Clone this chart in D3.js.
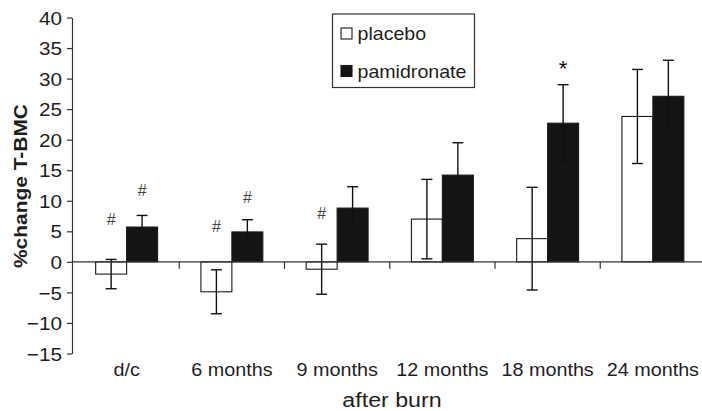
<!DOCTYPE html>
<html>
<head>
<meta charset="utf-8">
<script src="https://cdn.jsdelivr.net/npm/d3@7"></script>
<style>
  html, body { margin: 0; padding: 0; background: #fff; }
  svg { display: block; font-family: "Liberation Sans", Arial, Helvetica, sans-serif; }
</style>
</head>
<body>
<svg id="chart" width="702" height="411"></svg>
<script>
// ---- data ----
const categories = ["d/c", "6 months", "9 months", "12 months", "18 months", "24 months"];
const seriesNames = ["placebo", "pamidronate"];
const placeboMean = [-2.0, -4.9, -1.2, 7.0, 3.8, 23.8];
const placeboErr  = [2.4, 3.6, 4.1, 6.5, 8.4, 7.7];
const pamidronateMean = [5.7, 4.9, 8.8, 14.2, 22.7, 27.1];
const pamidronateErr  = [1.9, 2.0, 3.5, 5.3, 6.3, 5.9];
const yTickValues = [-15, -10, -5, 0, 5, 10, 15, 20, 25, 30, 35, 40];
const annotCategory = ["d/c", "d/c", "6 months", "6 months", "9 months", "18 months"];
const annotSeries   = ["placebo", "pamidronate", "placebo", "pamidronate", "placebo", "pamidronate"];
const annotText     = ["#", "#", "#", "#", "#", "*"];
const annotValue    = [6.9, 11.7, 5.9, 10.5, 7.9, 32.7];
const yTitle = "%change T-BMC";
const xTitle = "after burn";

// ---- setup ----
const svg = d3.select("#chart");
const axisColor = "#333";
const textColor = "#1e1e1e";
const barFill = { placebo: "#ffffff", pamidronate: "#141414" };

// widen glyphs horizontally (reference font renders wider than Arial)
function stretch(sel, sx) {
  sel.each(function () {
    const t = d3.select(this);
    const x0 = +t.attr("x") || 0, y0 = +t.attr("y") || 0;
    t.attr("x", 0).attr("y", 0)
     .attr("transform", `translate(${x0},${y0}) scale(${sx},1)`);
  });
}

const x = d3.scaleBand().domain(categories).range([74, 705.5]).paddingInner(0).paddingOuter(0);
const xs = d3.scaleBand().domain(seriesNames).range([0, x.bandwidth()]).paddingInner(0).paddingOuter(0.7);
const y = d3.scaleLinear().domain([-15, 40]).range([353.5, 17.5]);

const rows = [];
categories.forEach((c, i) => {
  rows.push({ cat: c, series: "placebo", mean: placeboMean[i], err: placeboErr[i] });
  rows.push({ cat: c, series: "pamidronate", mean: pamidronateMean[i], err: pamidronateErr[i] });
});
const cx = d => x(d.cat) + xs(d.series) + xs.bandwidth() / 2;

// ---- bars ----
const g = svg.append("g");
g.selectAll("rect.bar").data(rows).join("rect")
  .attr("class", "bar")
  .attr("x", d => x(d.cat) + xs(d.series))
  .attr("width", xs.bandwidth())
  .attr("y", d => y(Math.max(0, d.mean)))
  .attr("height", d => Math.abs(y(d.mean) - y(0)))
  .attr("fill", d => barFill[d.series])
  .attr("stroke", "#1a1a1a")
  .attr("stroke-width", 1.1);

// ---- error bars ----
const capHalf = 5.5;
const eg = g.selectAll("g.err").data(rows).join("g").attr("class", "err")
  .attr("stroke", "#111").attr("stroke-width", 1.4);
eg.append("line")
  .attr("x1", cx).attr("x2", cx)
  .attr("y1", d => y(d.mean - d.err))
  .attr("y2", d => y(d.mean + d.err));
eg.append("line")
  .attr("x1", d => cx(d) - capHalf).attr("x2", d => cx(d) + capHalf)
  .attr("y1", d => y(d.mean + d.err)).attr("y2", d => y(d.mean + d.err));
eg.append("line")
  .attr("x1", d => cx(d) - capHalf).attr("x2", d => cx(d) + capHalf)
  .attr("y1", d => y(d.mean - d.err)).attr("y2", d => y(d.mean - d.err));

// ---- y axis ----
const yAxis = d3.axisLeft(y).tickValues(yTickValues).tickSize(5).tickPadding(5).tickSizeOuter(0);
const yg = svg.append("g").attr("transform", "translate(72,0)").call(yAxis);
yg.select(".domain").attr("stroke", axisColor).attr("stroke-width", 1.2);
yg.selectAll(".tick line").attr("stroke", axisColor).attr("stroke-width", 1.2);
yg.selectAll(".tick text").attr("fill", textColor).style("font-size", "18.5px")
  .attr("dy", "0.36em").attr("x", -10);
stretch(yg.selectAll(".tick text"), 1.12);

// ---- x axis (at zero) ----
const boundaries = categories.slice(1).map(c => x(c));
const xg = svg.append("g");
xg.append("line")
  .attr("x1", 72).attr("x2", 702)
  .attr("y1", y(0)).attr("y2", y(0))
  .attr("stroke", axisColor).attr("stroke-width", 1.2);
xg.selectAll("line.tk").data(boundaries).join("line").attr("class", "tk")
  .attr("x1", d => d).attr("x2", d => d)
  .attr("y1", y(0)).attr("y2", y(0) + 7)
  .attr("stroke", axisColor).attr("stroke-width", 1.2);
const xl = xg.selectAll("text.xl").data(categories).join("text").attr("class", "xl")
  .attr("x", d => x(d) + x.bandwidth() / 2)
  .attr("y", 375.5)
  .attr("text-anchor", "middle")
  .attr("fill", textColor)
  .style("font-size", "17.5px")
  .text(d => d);
stretch(xl, 1.13);

// ---- annotations ----
annotText.forEach((t, i) => {
  const px = x(annotCategory[i]) + xs(annotSeries[i]) + xs.bandwidth() / 2;
  const isStar = t === "*";
  svg.append("text")
    .attr("x", px)
    .attr("y", y(annotValue[i]))
    .attr("dy", isStar ? "0.62em" : "0.36em")
    .attr("text-anchor", "middle")
    .attr("fill", isStar ? "#111" : "#444")
    .style("font-size", isStar ? "22px" : "16px")
    .text(t);
});

// ---- axis titles ----
svg.append("text")
  .attr("transform", "translate(26.5,186) rotate(-90) scale(1.12,1)")
  .attr("text-anchor", "middle")
  .attr("fill", textColor)
  .style("font-size", "18.7px")
  .style("font-weight", "bold")
  .text(yTitle);

const xt = svg.append("text")
  .attr("x", 392)
  .attr("y", 406.5)
  .attr("text-anchor", "middle")
  .attr("fill", textColor)
  .style("font-size", "19.5px")
  .text(xTitle);
stretch(xt, 1.19);

// ---- legend ----
const lg = svg.append("g");
lg.append("rect").attr("x", 332.5).attr("y", 14).attr("width", 142).attr("height", 73.5)
  .attr("fill", "#fff").attr("stroke", "#333").attr("stroke-width", 1.2);
seriesNames.forEach((s, i) => {
  lg.append("rect").attr("x", 341).attr("y", 28 + i * 37.5).attr("width", 11).attr("height", 11)
    .attr("fill", barFill[s]).attr("stroke", "#1a1a1a").attr("stroke-width", 1.1);
  const lt = lg.append("text").attr("x", 357.5).attr("y", 40 + i * 37.7)
    .attr("fill", textColor).style("font-size", "18.5px")
    .text(s);
  stretch(lt, 1.06);
});
</script>
</body>
</html>
